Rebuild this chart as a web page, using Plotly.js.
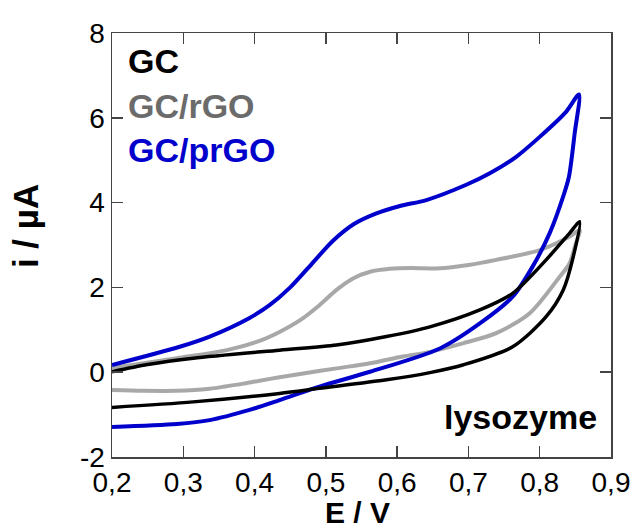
<!DOCTYPE html>
<html>
<head>
<meta charset="utf-8">
<script src="https://cdn.plot.ly/plotly-3.0.1.min.js"></script>
<style>html,body{margin:0;padding:0;background:#fff;}#chart{width:633px;height:530px;}</style>
</head>
<body>
<div id="chart"></div>
<script>
// GC (black)
const gcX = [0.20,0.25,0.314,0.435,0.515,0.585,0.646,0.716,0.762,0.809,0.842,0.856,
             0.847,0.833,0.809,0.762,0.692,0.646,0.585,0.491,0.435,0.314,0.20];
const gcY = [0.01,0.18,0.33,0.52,0.64,0.84,1.07,1.47,1.86,2.65,3.28,3.55,
             2.72,1.94,1.31,0.60,0.17,-0.01,-0.18,-0.38,-0.50,-0.70,-0.83];
// GC/rGO (grey)
const rgoX = [0.20,0.291,0.361,0.407,0.435,0.465,0.491,0.515,0.538,0.562,0.59,0.62,0.66,0.70,0.739,0.80,0.842,0.856,
              0.850,0.842,0.828,0.786,0.739,0.692,0.646,0.608,0.562,0.515,0.468,0.435,0.407,0.384,0.361,0.337,0.291,0.244,0.20];
const rgoY = [0.10,0.33,0.52,0.74,0.95,1.24,1.58,1.94,2.21,2.37,2.44,2.46,2.45,2.53,2.65,2.88,3.20,3.35,
              3.00,2.57,2.25,1.39,0.92,0.68,0.48,0.37,0.21,0.09,-0.03,-0.12,-0.20,-0.27,-0.33,-0.39,-0.44,-0.44,-0.42];
// GC/prGO (blue)
const prgoX = [0.20,0.295,0.337,0.393,0.421,0.45,0.48,0.51,0.54,0.57,0.604,0.641,0.697,0.730,0.767,0.80,0.837,0.855,
               0.849,0.841,0.834,0.814,0.79,0.762,0.716,0.66,0.562,0.491,0.435,0.393,0.337,0.291,0.20];
const prgoY = [0.17,0.60,0.84,1.28,1.58,2.00,2.55,3.10,3.50,3.74,3.92,4.06,4.42,4.69,5.08,5.55,6.14,6.55,
               5.63,4.61,4.20,3.28,2.49,1.78,1.15,0.56,0.01,-0.34,-0.66,-0.89,-1.13,-1.22,-1.29];

const xTickVals = [0.2,0.3,0.4,0.5,0.6,0.7,0.8,0.9];
const xTickText = ["0,2","0,3","0,4","0,5","0,6","0,7","0,8","0,9"];
const yTickVals = [-2,0,2,4,6,8];
const yTickText = ["-2","0","2","4","6","8"];

const FONT = "Arial, 'Liberation Sans', sans-serif";

const traces = [
  {x: rgoX, y: rgoY, mode: 'lines', line: {color: '#a8a8a8', width: 4, shape: 'spline', smoothing: 0.8}, name: 'GC/rGO'},
  {x: prgoX, y: prgoY, mode: 'lines', line: {color: '#0000cc', width: 4, shape: 'spline', smoothing: 0.8}, name: 'GC/prGO'},
  {x: gcX, y: gcY, mode: 'lines', line: {color: '#000000', width: 3.5, shape: 'spline', smoothing: 0.8}, name: 'GC'}
];

const axisCommon = {
  showgrid: false, zeroline: false, showline: true, linecolor: '#444', linewidth: 1.5,
  mirror: 'ticks', ticks: 'inside', ticklen: 11, tickwidth: 1.5, tickcolor: '#444',
  tickfont: {family: FONT, size: 28, color: '#000'}
};

const layout = {
  width: 633, height: 530,
  margin: {l: 112, r: 22, t: 33, b: 73},
  paper_bgcolor: '#fff', plot_bgcolor: '#fff',
  showlegend: false,
  font: {family: FONT},
  xaxis: Object.assign({}, axisCommon, {
    range: [0.2, 0.9], tickvals: xTickVals, ticktext: xTickText
  }),
  yaxis: Object.assign({}, axisCommon, {
    range: [-2, 8], tickvals: yTickVals, ticktext: yTickText
  }),
  annotations: [
    {text: '<b>E / V</b>', xref: 'paper', yref: 'paper', x: 0.491, y: -0.132, xanchor: 'center', yanchor: 'middle', showarrow: false, font: {family: FONT, size: 30, color: '#000'}},
    {text: '<b>i / µA</b>', xref: 'paper', yref: 'paper', x: -0.172, y: 0.545, xanchor: 'center', yanchor: 'middle', textangle: -90, showarrow: false, font: {family: FONT, size: 35, color: '#000'}},
    {text: '<b>GC</b>', xref: 'paper', yref: 'paper', x: 0.028, y: 0.934, xanchor: 'left', yanchor: 'middle', showarrow: false, font: {family: FONT, size: 34, color: '#000'}},
    {text: '<b>GC/rGO</b>', xref: 'paper', yref: 'paper', x: 0.028, y: 0.828, xanchor: 'left', yanchor: 'middle', showarrow: false, font: {family: FONT, size: 34, color: '#6b6b6b'}},
    {text: '<b>GC/prGO</b>', xref: 'paper', yref: 'paper', x: 0.028, y: 0.724, xanchor: 'left', yanchor: 'middle', showarrow: false, font: {family: FONT, size: 34, color: '#0000cc'}},
    {text: '<b>lysozyme</b>', xref: 'paper', yref: 'paper', x: 0.975, y: 0.094, xanchor: 'right', yanchor: 'middle', showarrow: false, font: {family: FONT, size: 34, color: '#000'}}
  ]
};

Plotly.newPlot('chart', traces, layout, {staticPlot: true, displayModeBar: false});
</script>
</body>
</html>
